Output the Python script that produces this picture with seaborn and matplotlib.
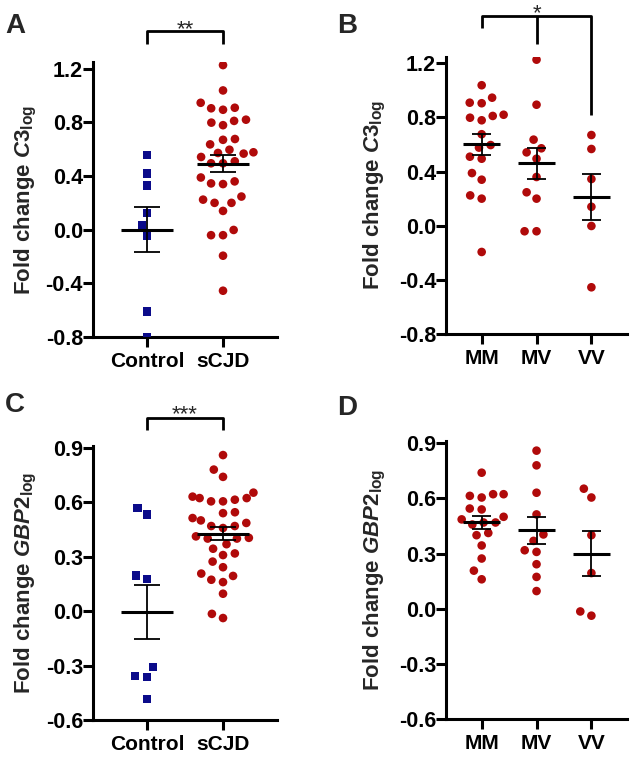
import numpy as np
import pandas as pd
import matplotlib
matplotlib.use("Agg")
import matplotlib.pyplot as plt
import seaborn as sns

# ---------------- data ----------------
c3_control = [0.555, 0.42, 0.33, 0.125, 0.03, -0.045, -0.61, -0.80]
c3_MM = [1.038, 0.946, 0.905, 0.909, 0.820, 0.811, 0.779, 0.798, 0.676,
         0.577, 0.596, 0.495, 0.510, 0.340, 0.389, 0.200, 0.224, -0.194]
c3_MV = [1.227, 0.894, 0.636, 0.572, 0.542, 0.495, 0.360, 0.247, 0.200,
         -0.041, -0.041]
c3_VV = [0.670, 0.567, 0.345, 0.140, -0.002, -0.455]

gbp2_control = [0.569, 0.533, 0.197, 0.178, -0.309, -0.358, -0.362, -0.483]
gbp2_MM = [0.740, 0.623, 0.623, 0.614, 0.605, 0.545, 0.540, 0.500, 0.486,
           0.469, 0.469, 0.458, 0.412, 0.400, 0.344, 0.273, 0.207, 0.160]
gbp2_MV = [0.860, 0.780, 0.631, 0.513, 0.404, 0.369, 0.318, 0.309, 0.242,
           0.173, 0.096]
gbp2_VV = [0.653, 0.605, 0.400, 0.194, -0.015, -0.038]

groups_ab = ["Control", "sCJD"]
groups_geno = ["MM", "MV", "VV"]
c3_ticks = [-0.8, -0.4, 0.0, 0.4, 0.8, 1.2]
gbp2_ticks = [-0.6, -0.3, 0.0, 0.3, 0.6, 0.9]

BLUE = "#0b0b8a"
RED = "#b00a0a"

# ---------------- style ----------------
sns.set_theme(style="ticks")
plt.rcParams.update({
    "font.family": ["Liberation Sans", "DejaVu Sans"],
    "font.weight": "bold",
    "axes.unicode_minus": False,
    "mathtext.fontset": "custom",
    "mathtext.rm": "Liberation Sans:weight=bold",
    "mathtext.it": "Liberation Sans:style=italic:weight=bold",
    "mathtext.bf": "Liberation Sans:weight=bold",
    "axes.linewidth": 2.2,
    "axes.edgecolor": "black",
    "xtick.color": "black",
    "ytick.color": "black",
    "xtick.major.width": 2.2,
    "ytick.major.width": 2.2,
    "xtick.major.size": 7.5,
    "ytick.major.size": 7.2,
})

fig = plt.figure(figsize=(6.33, 7.58), dpi=100)
axA = fig.add_axes([0.1469, 0.5554, 0.2907, 0.3628])
axB = fig.add_axes([0.7046, 0.5594, 0.2860, 0.3660])
axC = fig.add_axes([0.1469, 0.0501, 0.2907, 0.3615])
axD = fig.add_axes([0.7046, 0.0515, 0.2860, 0.3661])

DOT = 6.2
SQ = 6.0
LW_GAP = 2.0


def swarm(ax, label, values, order, color, marker, size):
    df = pd.DataFrame({"group": [label] * len(values), "value": values})
    sns.swarmplot(data=df, x="group", y="value", order=order, ax=ax,
                  color=color, marker=marker, size=size,
                  edgecolor="none", linewidth=LW_GAP, zorder=3)


def mean_sem(ax, pos, values):
    v = np.asarray(values)
    m = v.mean()
    se = v.std(ddof=1) / np.sqrt(len(v))
    ax.hlines(m, pos - 0.34, pos + 0.34, color="black", lw=2.2, zorder=6)
    ax.vlines(pos, m - se, m + se, color="black", lw=1.3, zorder=6)
    ax.hlines([m - se, m + se], pos - 0.17, pos + 0.17, color="black",
              lw=1.3, zorder=6)


def finish(ax, order, ylim, ticks, ylabel, xlim, lcx):
    ax.set_xlim(*xlim)
    ax.set_ylim(*ylim)
    ax.set_yticks(ticks)
    ax.set_yticklabels([f"{t:.1f}" for t in ticks])
    ax.set_xticks(range(len(order)))
    ax.set_xticklabels(order)
    ax.tick_params(axis="y", labelsize=15.5, pad=0)
    ax.tick_params(axis="x", labelsize=15, pad=3)
    for lab in ax.get_xticklabels() + ax.get_yticklabels():
        lab.set_fontweight("bold")
    sns.despine(ax=ax)
    ax.set_xlabel("")
    ax.set_ylabel(ylabel, fontsize=16, fontweight="bold")
    ax.yaxis.set_label_coords(lcx, 0.5)


def bracket(ax, segs, lw=2.0):
    for xs, ys in segs:
        ax.plot(xs, ys, color="black", lw=lw, clip_on=False,
                solid_capstyle="butt", zorder=7)


def stars(ax, x, y, s):
    ax.text(x, y, s, ha="center", va="baseline", fontsize=16,
            fontweight="normal", clip_on=False)


# ---------------- panel A ----------------
swarm(axA, "Control", c3_control, groups_ab, BLUE, "s", SQ)
swarm(axA, "sCJD", c3_MM + c3_MV + c3_VV, groups_ab, RED, "o", DOT)
mean_sem(axA, 0, c3_control)
mean_sem(axA, 1, c3_MM + c3_MV + c3_VV)
finish(axA, groups_ab, (-0.8, 1.25), c3_ticks,
       r"Fold change $\mathit{C3}_{\mathrm{log}}$", (-0.71, 1.71), -0.294)
bracket(axA, [([0, 0, 1, 1], [1.386, 1.483, 1.483, 1.386])])
stars(axA, 0.5, 1.45, "**")

# ---------------- panel B ----------------
for i, (g, vals) in enumerate(zip(groups_geno, [c3_MM, c3_MV, c3_VV])):
    swarm(axB, g, vals, groups_geno, RED, "o", DOT)
    mean_sem(axB, i, vals)
finish(axB, groups_geno, (-0.8, 1.25), c3_ticks,
       r"Fold change $\mathit{C3}_{\mathrm{log}}$", (-0.65, 2.65), -0.321)
bracket(axB, [([0, 0, 2, 2], [1.46, 1.55, 1.55, 0.818]),
              ([1, 1], [1.55, 1.343])])
stars(axB, 1, 1.528, "*")

# ---------------- panel C ----------------
swarm(axC, "Control", gbp2_control, groups_ab, BLUE, "s", SQ)
swarm(axC, "sCJD", gbp2_MM + gbp2_MV + gbp2_VV, groups_ab, RED, "o", DOT)
mean_sem(axC, 0, gbp2_control)
mean_sem(axC, 1, gbp2_MM + gbp2_MV + gbp2_VV)
finish(axC, groups_ab, (-0.6, 0.91), gbp2_ticks,
       r"Fold change $\mathit{GBP2}_{\mathrm{log}}$", (-0.71, 1.71), -0.294)
bracket(axC, [([0, 0, 1, 1], [0.997, 1.063, 1.063, 0.997])])
stars(axC, 0.5, 1.05, "***")

# ---------------- panel D ----------------
for i, (g, vals) in enumerate(zip(groups_geno, [gbp2_MM, gbp2_MV, gbp2_VV])):
    swarm(axD, g, vals, groups_geno, RED, "o", DOT)
    mean_sem(axD, i, vals)
finish(axD, groups_geno, (-0.6, 0.91), gbp2_ticks,
       r"Fold change $\mathit{GBP2}_{\mathrm{log}}$", (-0.65, 2.65), -0.321)

# ---------------- panel letters ----------------
for letter, x, ybase in [("A", 5, 33), ("B", 337, 33), ("C", 5, 412), ("D", 337, 415)]:
    fig.text(x / 633, 1 - ybase / 758, letter, fontsize=20, fontweight="bold",
             ha="left", va="baseline")

fig.savefig("out.png", dpi=100)
